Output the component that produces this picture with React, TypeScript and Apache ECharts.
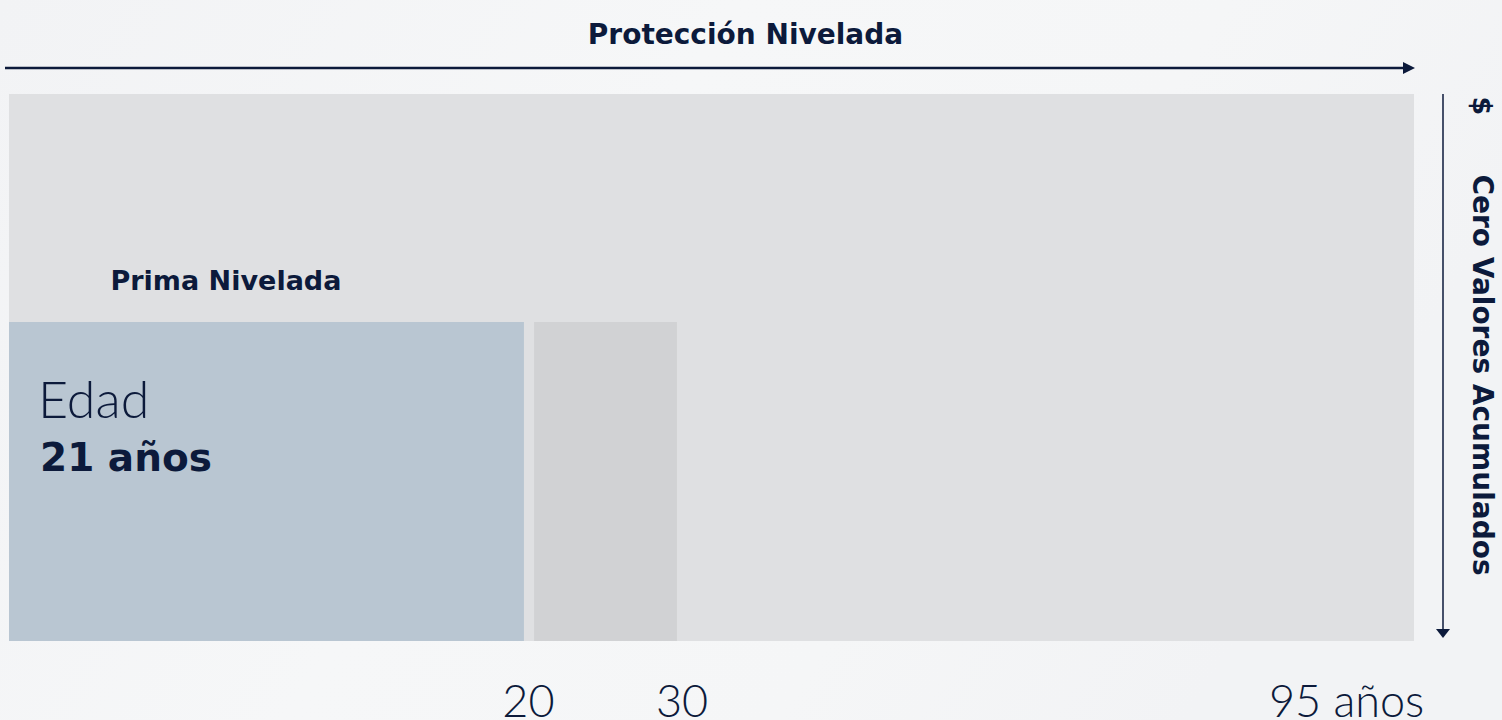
import React, { useEffect, useRef } from "react";
import * as echarts from "echarts";

// Timeline segments (x in % of the protection timeline, y in % of the level)
const segNames = ["Protección Nivelada", "Prima Nivelada", "Prima 20-30"];
const segStart = [0, 0, 37.37];
const segEnd = [100, 36.65, 47.54];
const segHeight = [100, 58.3, 58.3];
const segColor = ["#dfe0e2", "#b9c6d2", "#d1d2d4"];

// Age tick labels along the timeline
const tickLabels = ["20", "30", "95 años"];
const tickPos = [36.97, 47.9, 95.2];

const NAVY = "#0c1a3b";
const BOLD = "'DejaVu Sans', sans-serif";

export default function App() {
  const ref = useRef<HTMLDivElement>(null);
  useEffect(() => {
    if (!ref.current) return;
    const chart = echarts.init(ref.current, null, { renderer: "svg" });
    const txt = (
      text: string,
      x: number,
      y: number,
      size: number,
      weight: number,
      family: string,
      align: string,
      rotation = 0
    ) => ({
      type: "text",
      z: 100,
      x,
      y,
      rotation,
      style: {
        text,
        fontSize: size,
        fontWeight: weight,
        fontFamily: family,
        fill: NAVY,
        align,
        verticalAlign: "middle",
      },
    });
    chart.setOption({
      animation: false,
      backgroundColor: {
        type: "linear",
        x: 0,
        y: 0,
        x2: 1,
        y2: 0.3,
        colorStops: [
          { offset: 0, color: "#f2f3f5" },
          { offset: 0.45, color: "#f6f7f8" },
          { offset: 0.75, color: "#f5f6f7" },
          { offset: 1, color: "#f2f3f5" },
        ],
      },
      grid: { left: 9, right: 88, top: 94, bottom: 79 },
      xAxis: { type: "value", min: 0, max: 100, show: false },
      yAxis: { type: "value", min: 0, max: 100, show: false },
      series: [
        {
          type: "custom",
          name: "segments",
          encode: { x: [0, 1], y: 2 },
          data: segStart.map((s, i) => [s, segEnd[i], segHeight[i], segNames[i]]),
          renderItem: (params: any, api: any) => {
            const s = api.value(0);
            const e = api.value(1);
            const h = api.value(2);
            const p0 = api.coord([s, h]);
            const p1 = api.coord([e, 0]);
            return {
              type: "rect",
              shape: { x: p0[0], y: p0[1], width: p1[0] - p0[0], height: p1[1] - p0[1] },
              style: { fill: segColor[params.dataIndex] },
            };
          },
        },
        {
          type: "custom",
          name: "ticks",
          encode: { x: 0, y: 1 },
          clip: false,
          data: tickPos.map((p, i) => [p, 0, tickLabels[i]]),
          renderItem: (params: any, api: any) => {
            const pt = api.coord([api.value(0), 0]);
            return {
              type: "text",
              x: pt[0],
              y: pt[1] + 59,
              style: {
                text: tickLabels[params.dataIndex],
                fontSize: 45,
                fontFamily: "Lato",
                fontWeight: 300,
                fill: NAVY,
                align: "center",
                verticalAlign: "middle",
              },
            };
          },
        },
      ],
      graphic: [
        txt("Protección Nivelada", 745.5, 34, 28, 700, BOLD, "center"),
        {
          type: "line",
          z: 100,
          shape: { x1: 5, y1: 68, x2: 1406, y2: 68 },
          style: { stroke: NAVY, lineWidth: 2.5 },
        },
        {
          type: "polygon",
          z: 100,
          shape: { points: [[1403, 62], [1415, 68], [1403, 74]] },
          style: { fill: NAVY },
        },
        {
          type: "line",
          z: 100,
          shape: { x1: 1443, y1: 94, x2: 1443, y2: 630 },
          style: { stroke: NAVY, lineWidth: 1.5 },
        },
        {
          type: "polygon",
          z: 100,
          shape: { points: [[1436, 629], [1450, 629], [1443, 638]] },
          style: { fill: NAVY },
        },
        txt("$", 1482, 106, 27, 700, BOLD, "center", -Math.PI / 2),
        txt("Cero Valores Acumulados", 1482, 375, 28, 700, BOLD, "center", -Math.PI / 2),
        txt("Prima Nivelada", 110.5, 280, 27, 700, BOLD, "left"),
        txt("Edad", 38, 398, 52, 300, "Lato", "left"),
        txt("21 años", 40, 457, 39, 700, BOLD, "left"),
      ],
    });
    return () => chart.dispose();
  }, []);
  return (
    <div
      ref={ref}
      style={{ position: "fixed", left: 0, top: 0, width: 1502, height: 720 }}
    />
  );
}
